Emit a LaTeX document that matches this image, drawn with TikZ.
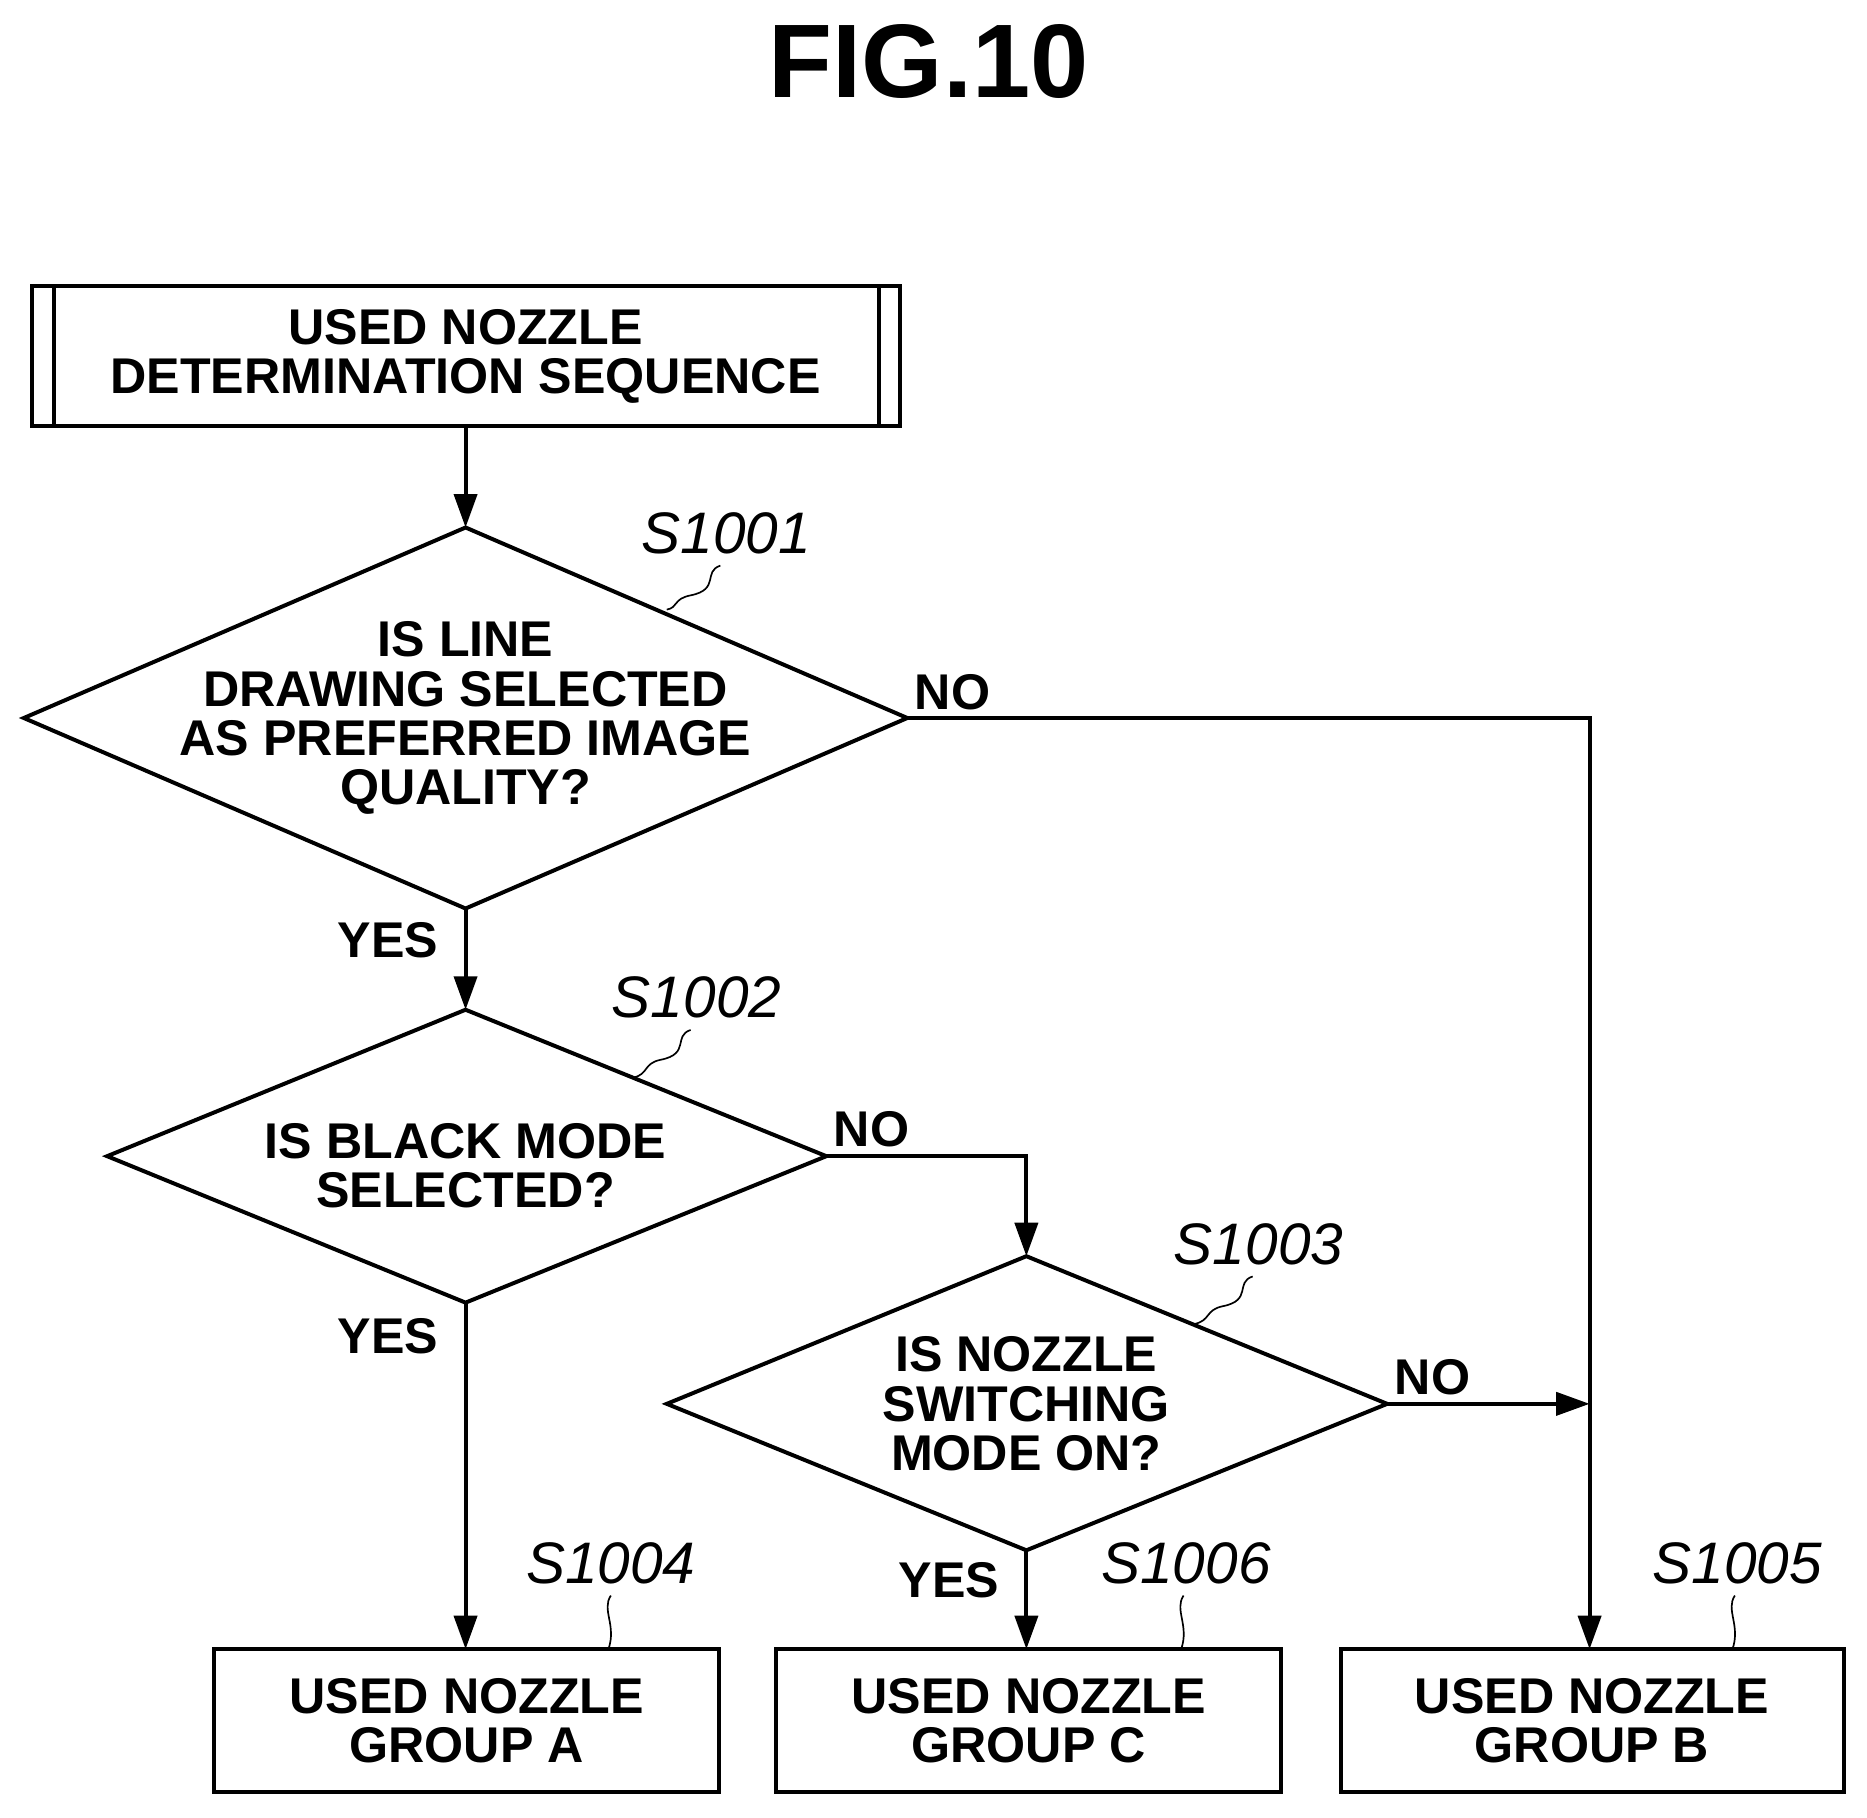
\documentclass[tikz,border=0pt]{standalone}
\usepackage{fontspec}
\setmainfont{Liberation Sans}
\usetikzlibrary{arrows.meta}
\begin{document}
\begin{tikzpicture}[x=0.02cm,y=-0.02cm,
  txt/.style={font=\fontsize{24}{23.5}\selectfont\bfseries,align=center},
  lab/.style={font=\fontsize{28}{28}\selectfont\itshape},
  yn/.style={font=\fontsize{24}{24}\selectfont\bfseries},
  ln/.style={line width=1.9pt},
  arr/.style={ln,-{Triangle[length=16pt,width=11pt]}},
  sq/.style={line width=0.8pt}]
\useasboundingbox (0,0) rectangle (1568,1526);
\node[font=\fontsize{50}{50}\selectfont\bfseries] (title) at (780,52) {FIG.10};
% start box
\draw[ln] (27,240) rectangle (756,358);
\draw[ln] (45,240) -- (45,358) (738,240) -- (738,358);
\node[txt] (start) at (391,299) {USED NOZZLE\\DETERMINATION SEQUENCE};
\coordinate (st) at (391,358);
% diamonds
\draw[ln] (20,603) -- (391,443) -- (762,603) -- (391,763) -- cycle;
\node[txt] (d1) at (391,603) {IS LINE\\DRAWING SELECTED\\AS PREFERRED IMAGE\\QUALITY?};
\draw[ln] (90,971) -- (391,848) -- (694,971) -- (391,1094) -- cycle;
\node[txt] (d2) at (391,979) {IS BLACK MODE\\SELECTED?};
\draw[ln] (560,1179) -- (862,1055) -- (1165,1179) -- (862,1302) -- cycle;
\node[txt] (d3) at (862,1179) {IS NOZZLE\\SWITCHING\\MODE ON?};
\coordinate (d1t) at (391,443); \coordinate (d1b) at (391,763); \coordinate (d1r) at (762,603);
\coordinate (d2t) at (391,848); \coordinate (d2b) at (391,1094); \coordinate (d2r) at (694,971);
\coordinate (d3t) at (862,1055); \coordinate (d3b) at (862,1302); \coordinate (d3r) at (1165,1179);
% boxes
\draw[ln] (180,1385) rectangle (604,1505);
\node[txt] (ga) at (392,1445) {USED NOZZLE\\GROUP A};
\draw[ln] (652,1385) rectangle (1076,1505);
\node[txt] (gc) at (864,1445) {USED NOZZLE\\GROUP C};
\draw[ln] (1126,1385) rectangle (1549,1505);
\node[txt] (gb) at (1337,1445) {USED NOZZLE\\GROUP B};
\coordinate (gat) at (391,1385); \coordinate (gct) at (862,1385); \coordinate (gbt) at (1335,1385);
\coordinate (jn) at (1335,1179);
% connectors
\draw[arr] (st) -- (d1t);
\draw[arr] (d1b) -- (d2t);
\draw[arr] (d1r) -| (gbt);
\draw[arr] (d2r) -| (d3t);
\draw[arr] (d3r) -- (jn);
\draw[arr] (d2b) -- (gat);
\draw[arr] (d3b) -- (gct);
% yes/no
\node[yn] (n1) at (800,581) {NO};
\node[yn] (y1) at (326,790) {YES};
\node[yn] (n2) at (732,948) {NO};
\node[yn] (y2) at (326,1122) {YES};
\node[yn] (n3) at (1203,1157) {NO};
\node[yn] (y3) at (797,1327) {YES};
% step labels
\node[lab] (s1) at (610,448) {S1001};
\draw[sq] (605,475) .. controls (590,480) and (605,495) .. (580,500) .. controls (565,503) and (570,510) .. (560,512);
\node[lab] (s2) at (585,838) {S1002};
\draw[sq] (580,865) .. controls (565,870) and (580,885) .. (555,890) .. controls (540,893) and (545,902) .. (532,905);
\node[lab] (s3) at (1057,1045) {S1003};
\draw[sq] (1052,1072) .. controls (1037,1077) and (1052,1092) .. (1027,1097) .. controls (1012,1100) and (1017,1109) .. (1003,1112);
\node[lab] (s4) at (513,1313) {S1004};
\draw[sq] (513,1340) .. controls (505,1352) and (518,1365) .. (511,1385);
\node[lab] (s6) at (996,1313) {S1006};
\draw[sq] (994,1340) .. controls (986,1352) and (999,1365) .. (992,1385);
\node[lab] (s5) at (1459,1313) {S1005};
\draw[sq] (1457,1340) .. controls (1449,1352) and (1462,1365) .. (1455,1385);
\end{tikzpicture}
\end{document}
